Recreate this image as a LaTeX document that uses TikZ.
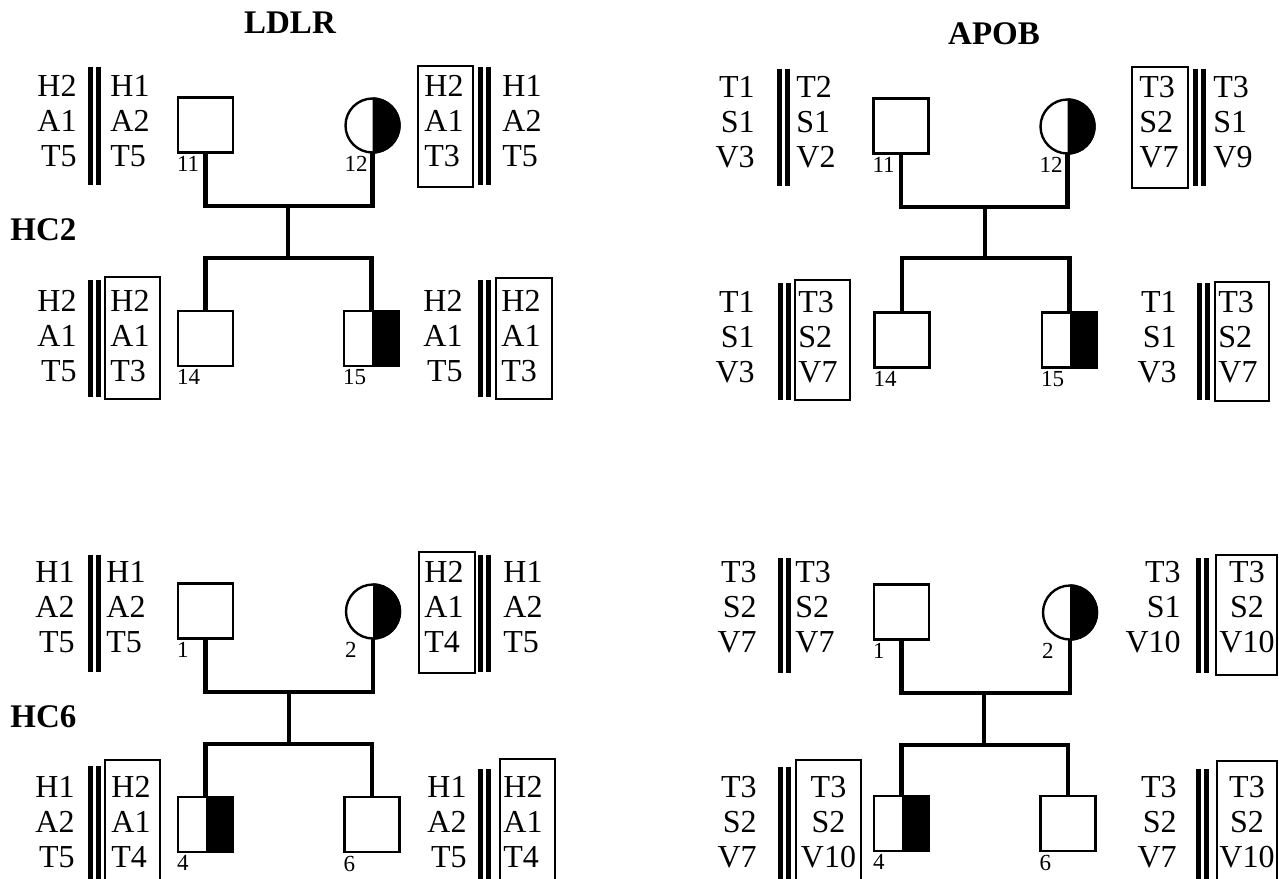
\documentclass[tikz,border=0pt]{standalone}
\usepackage{fontspec}
\setmainfont{Liberation Serif}
\tikzset{
  al/.style={font=\fontsize{16}{17}\selectfont, inner sep=0pt},
  sq/.style={draw, line width=1.4pt, minimum size=27.5pt, inner sep=0pt, fill=white},
  ci/.style={circle, draw, line width=1.2pt, minimum size=27pt, inner sep=0pt, fill=white},
  conn/.style={line width=2.4pt, line join=miter},
  bar/.style={line width=2.5pt},
  hbox/.style={line width=1pt},
  lab/.style={font=\fontsize{11.5}{13}\selectfont, inner sep=0pt, anchor=north west},
  ttl/.style={font=\bfseries\fontsize{16.5}{18}\selectfont, inner sep=0pt}
}
\newcommand\hapE[6]{\node[al,anchor=base east] (#1a) at (#2,#3) {#4};
  \node[al,anchor=base east] (#1b) at (#2,{#3+35}) {#5};
  \node[al,anchor=base east] (#1c) at (#2,{#3+70}) {#6};}
\newcommand\hapW[6]{\node[al,anchor=base west] (#1a) at (#2,#3) {#4};
  \node[al,anchor=base west] (#1b) at (#2,{#3+35}) {#5};
  \node[al,anchor=base west] (#1c) at (#2,{#3+70}) {#6};}
\newcommand\hapC[6]{\node[al,anchor=base] (#1a) at (#2,#3) {#4};
  \node[al,anchor=base] (#1b) at (#2,{#3+35}) {#5};
  \node[al,anchor=base] (#1c) at (#2,{#3+70}) {#6};}
\newcommand\bars[3]{\draw[bar] (#1,#2) -- (#1,#3); \draw[bar] ({#1+8},#2) -- ({#1+8},#3);}
\newcommand\hb[4]{\draw[hbox] (#1,#2) rectangle (#3,#4);}
% half-filled square and circle
\newcommand\halfsq[1]{\fill (#1.north) rectangle (#1.south east);}
\newcommand\halfci[1]{\begin{scope}\clip (#1.north) rectangle ([xshift=20pt]#1.south);
  \fill (#1.center) circle[radius=14.1pt];\end{scope}}
\begin{document}
\begin{tikzpicture}[x=0.5pt,y=-0.5pt]
\useasboundingbox (0,0) rectangle (1279,878);
\clip (0,0) rectangle (1279,878);
% titles
\node[ttl,anchor=base] (t1) at (290,33) {LDLR};
\node[ttl,anchor=base] (t2) at (994,44) {APOB};
\node[ttl,anchor=base west] (hc2) at (10,240) {HC2};
\node[ttl,anchor=base west] (hc6) at (10,727) {HC6};

% ===== LDLR HC2 =====
\coordinate (Am) at (288,206); \coordinate (As) at (288,258);
\coordinate (A11c) at (205.5,125); \coordinate (A12c) at (372.5,125.5);
\coordinate (A14c) at (205.5,338.5); \coordinate (A15c) at (371.5,338.5);
\draw[conn] (A11c) -- (A11c |- Am) -- (A12c |- Am) -- (A12c);
\draw[conn] (Am) -- (As);
\draw[conn] (A14c) -- (A14c |- As) -- (A15c |- As) -- (A15c);
\node[sq] (A11) at (A11c) {};
\node[ci] (A12) at (A12c) {}; \halfci{A12}
\node[sq] (A14) at (A14c) {};
\node[sq] (A15) at (A15c) {}; \halfsq{A15}
\node[lab] (A11l) at ([yshift=-1pt]A11.south west) {11};
\node[lab] (A12l) at ([yshift=-1pt]A12.west |- A12.south) {12};
\node[lab] (A14l) at ([yshift=-1pt]A14.south west) {14};
\node[lab] (A15l) at ([yshift=-1pt]A15.south west) {15};
\hapE{A11L}{77}{96}{H2}{A1}{T5} \bars{90.5}{67}{185} \hapW{A11R}{110}{96}{H1}{A2}{T5}
\hb{418}{66}{473}{187} \hapW{A12L}{424}{96}{H2}{A1}{T3} \bars{480.5}{67}{185} \hapW{A12R}{502}{96}{H1}{A2}{T5}
\hapE{A14L}{77}{311}{H2}{A1}{T5} \bars{90.5}{280}{397} \hb{105}{277}{160}{399} \hapW{A14R}{110}{311}{H2}{A1}{T3}
\hapE{A15L}{463}{311}{H2}{A1}{T5} \bars{480.5}{280}{397} \hb{496}{278}{552}{399} \hapW{A15R}{501}{311}{H2}{A1}{T3}

% ===== APOB HC2 =====
\coordinate (Bm) at (985,207); \coordinate (Bs) at (985,258);
\coordinate (B11c) at (901,126); \coordinate (B12c) at (1067.5,126.5);
\coordinate (B14c) at (902,340); \coordinate (B15c) at (1069.5,340);
\draw[conn] (B11c) -- (B11c |- Bm) -- (B12c |- Bm) -- (B12c);
\draw[conn] (Bm) -- (Bs);
\draw[conn] (B14c) -- (B14c |- Bs) -- (B15c |- Bs) -- (B15c);
\node[sq] (B11) at (B11c) {};
\node[ci] (B12) at (B12c) {}; \halfci{B12}
\node[sq] (B14) at (B14c) {};
\node[sq] (B15) at (B15c) {}; \halfsq{B15}
\node[lab] (B11l) at ([yshift=-1pt]B11.south west) {11};
\node[lab] (B12l) at ([yshift=-1pt]B12.west |- B12.south) {12};
\node[lab] (B14l) at ([yshift=-1pt]B14.south west) {14};
\node[lab] (B15l) at ([yshift=-1pt]B15.south west) {15};
\hapE{B11L}{755}{97}{T1}{S1}{V3} \bars{779.5}{69}{186} \hapW{B11R}{796}{97}{T2}{S1}{V2}
\hb{1132}{67}{1188}{188} \hapW{B12L}{1139}{97}{T3}{S2}{V7} \bars{1195.5}{69}{186} \hapW{B12R}{1213}{97}{T3}{S1}{V9}
\hapE{B14L}{755}{312}{T1}{S1}{V3} \bars{780}{283}{400} \hb{795}{280}{850}{400} \hapW{B14R}{798}{312}{T3}{S2}{V7}
\hapE{B15L}{1177}{312}{T1}{S1}{V3} \bars{1199.5}{283}{400} \hb{1215}{282}{1269}{401} \hapW{B15R}{1218}{312}{T3}{S2}{V7}

% ===== LDLR HC6 =====
\coordinate (Cm) at (289,692); \coordinate (Cs) at (289,744);
\coordinate (C1c) at (205.5,611); \coordinate (C2c) at (373,611.5);
\coordinate (C4c) at (205.5,824.5); \coordinate (C6c) at (372,824.5);
\draw[conn] (C1c) -- (C1c |- Cm) -- (C2c |- Cm) -- (C2c);
\draw[conn] (Cm) -- (Cs);
\draw[conn] (C4c) -- (C4c |- Cs) -- (C6c |- Cs) -- (C6c);
\node[sq] (C1) at (C1c) {};
\node[ci] (C2) at (C2c) {}; \halfci{C2}
\node[sq] (C4) at (C4c) {}; \halfsq{C4}
\node[sq] (C6) at (C6c) {};
\node[lab] (C1l) at ([yshift=-1pt]C1.south west) {1};
\node[lab] (C2l) at ([yshift=-1pt]C2.west |- C2.south) {2};
\node[lab] (C4l) at ([yshift=-1pt]C4.south west) {4};
\node[lab] (C6l) at ([yshift=-1pt]C6.south west) {6};
\hapE{C1L}{75}{582}{H1}{A2}{T5} \bars{90.5}{555}{672} \hapW{C1R}{106}{582}{H1}{A2}{T5}
\hb{419}{552}{475}{673} \hapW{C2L}{424}{582}{H2}{A1}{T4} \bars{480.5}{555}{672} \hapW{C2R}{503}{582}{H1}{A2}{T5}
\hapE{C4L}{75}{797}{H1}{A2}{T5} \bars{90.5}{766}{890} \hb{105}{760}{160}{900} \hapW{C4R}{111}{797}{H2}{A1}{T4}
\hapE{C6L}{467}{797}{H1}{A2}{T5} \bars{480.5}{769}{890} \hb{500}{759}{555}{900} \hapW{C6R}{503}{797}{H2}{A1}{T4}

% ===== APOB HC6 =====
\coordinate (Dm) at (984,693); \coordinate (Ds) at (984,745);
\coordinate (D1c) at (901.5,612); \coordinate (D2c) at (1070,612.5);
\coordinate (D4c) at (901.5,823.5); \coordinate (D6c) at (1068,823.5);
\draw[conn] (D1c) -- (D1c |- Dm) -- (D2c |- Dm) -- (D2c);
\draw[conn] (Dm) -- (Ds);
\draw[conn] (D4c) -- (D4c |- Ds) -- (D6c |- Ds) -- (D6c);
\node[sq] (D1) at (D1c) {};
\node[ci] (D2) at (D2c) {}; \halfci{D2}
\node[sq] (D4) at (D4c) {}; \halfsq{D4}
\node[sq] (D6) at (D6c) {};
\node[lab] (D1l) at ([yshift=-1pt]D1.south west) {1};
\node[lab] (D2l) at ([yshift=-1pt]D2.west |- D2.south) {2};
\node[lab] (D4l) at ([yshift=-1pt]D4.south west) {4};
\node[lab] (D6l) at ([yshift=-1pt]D6.south west) {6};
\hapE{D1L}{757}{582}{T3}{S2}{V7} \bars{780}{558}{673} \hapW{D1R}{795}{582}{T3}{S2}{V7}
\hapE{D2L}{1181}{582}{T3}{S1}{V10} \bars{1198}{558}{673} \hb{1216}{555}{1277}{675} \hapC{D2R}{1247}{582}{T3}{S2}{V10}
\hapE{D4L}{757}{797}{T3}{S2}{V7} \bars{780}{767}{890} \hb{796}{760}{861}{900} \hapC{D4R}{828.5}{797}{T3}{S2}{V10}
\hapE{D6L}{1177}{797}{T3}{S2}{V7} \bars{1198}{769}{890} \hb{1217}{761}{1277}{900} \hapC{D6R}{1247}{797}{T3}{S2}{V10}
\end{tikzpicture}
\end{document}
